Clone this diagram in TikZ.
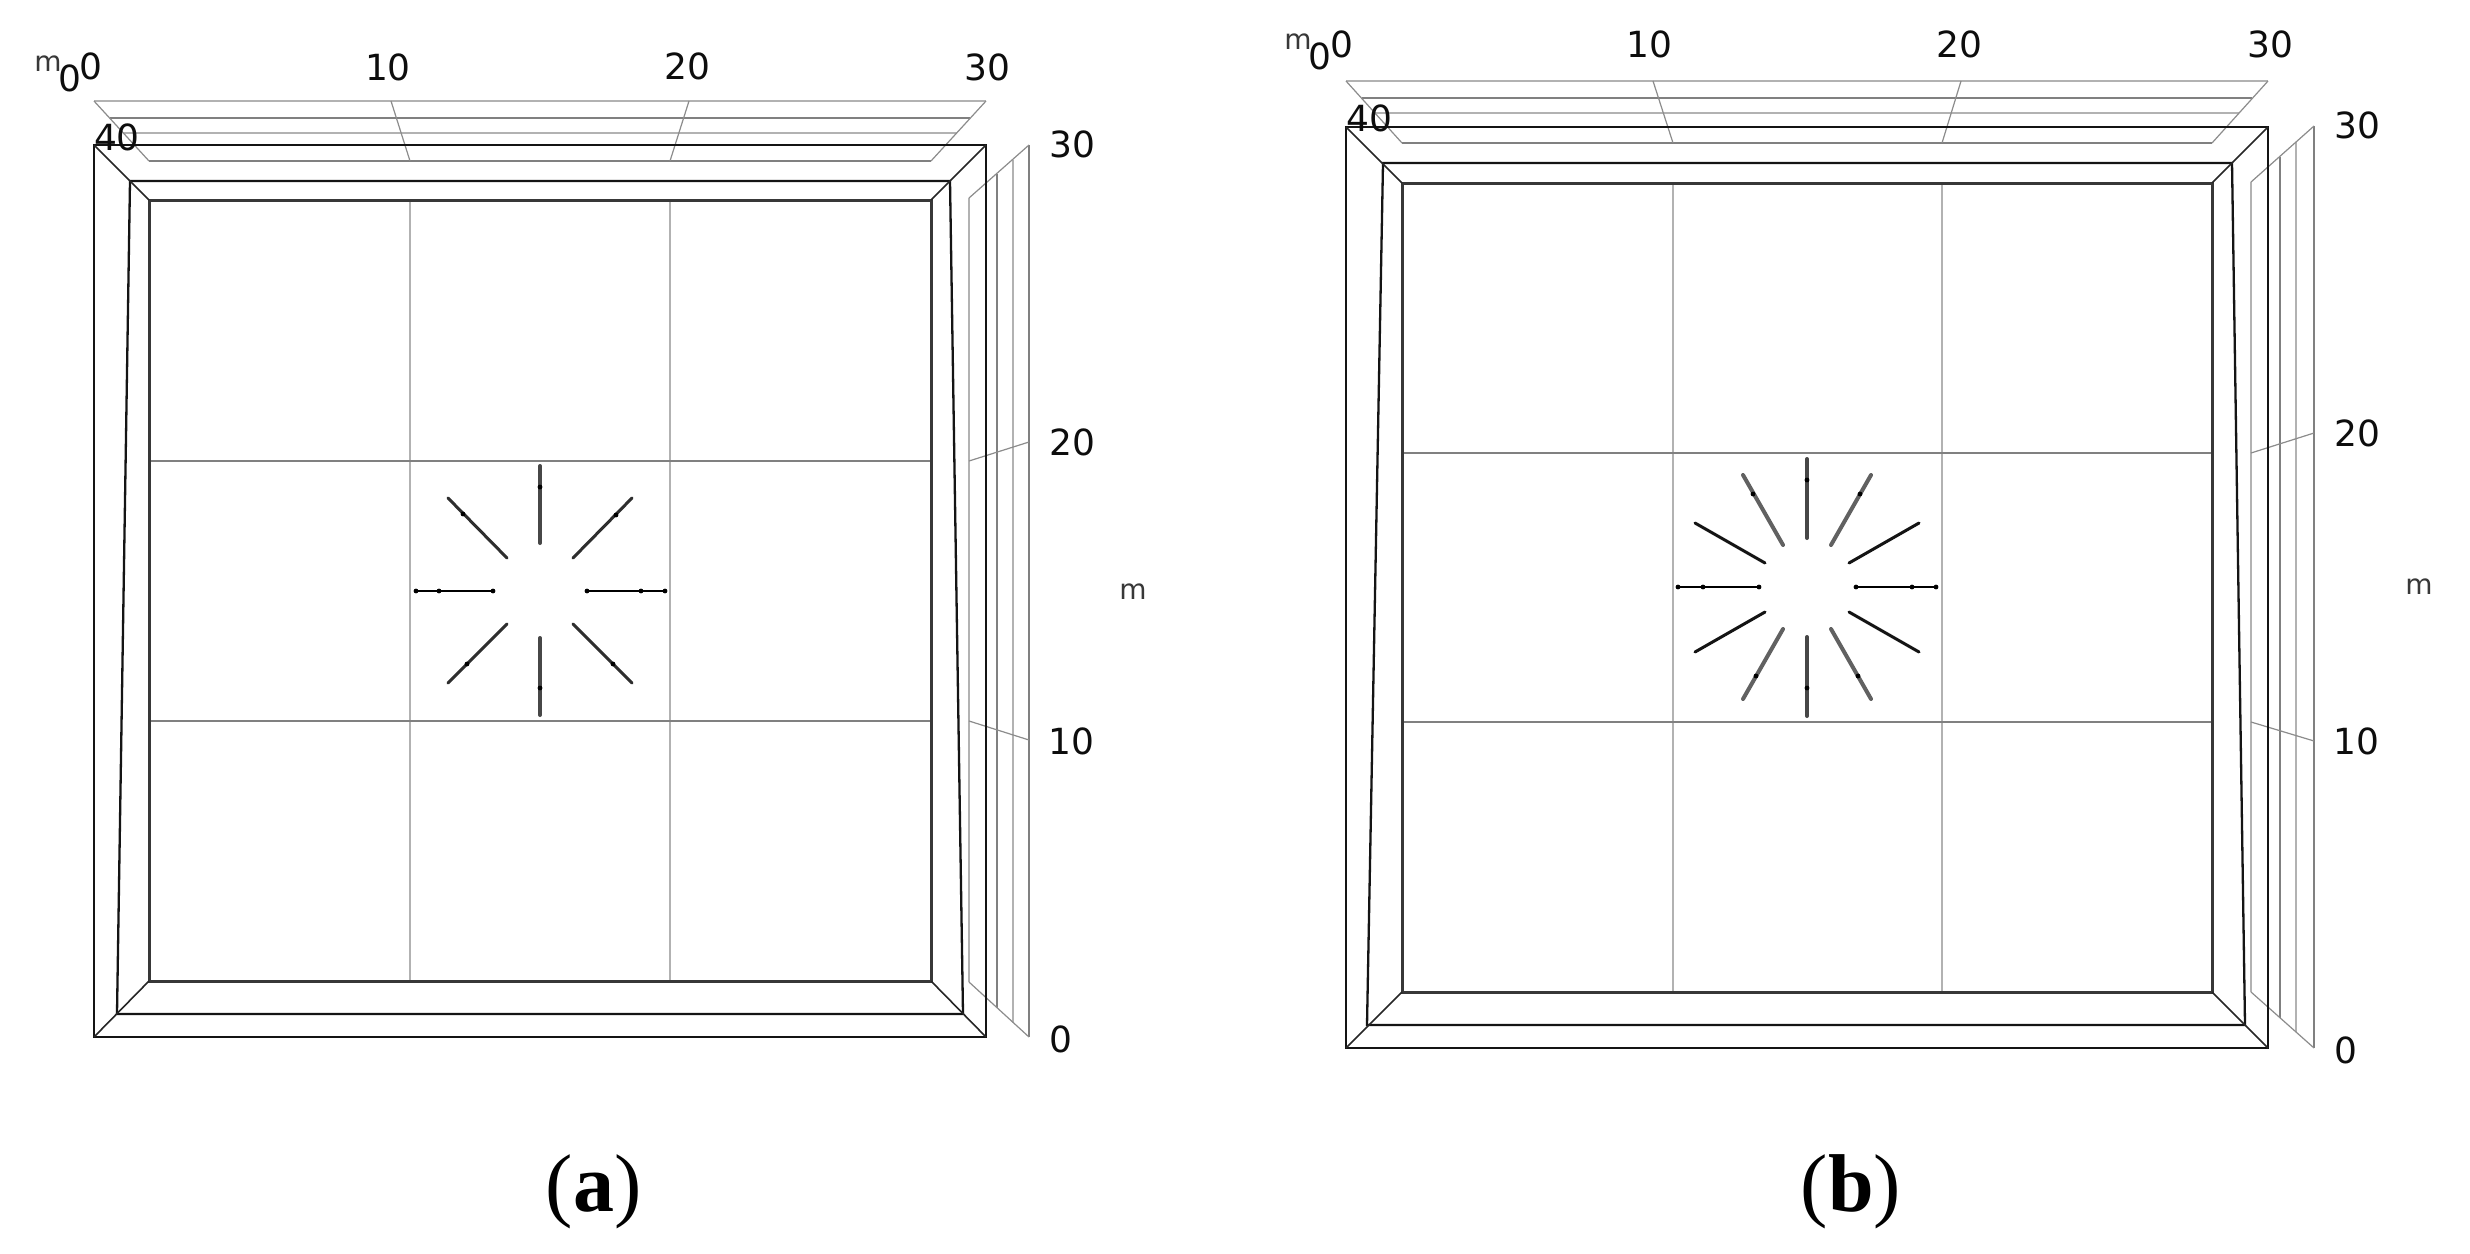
\documentclass[tikz,border=0pt]{standalone}
\usepackage{fontspec}
\setmainfont{DejaVu Sans}
\newfontfamily\capfont{Liberation Serif}
\tikzset{
  frameline/.style={draw=black!92,line width=2.3pt,line join=miter},
  innerline/.style={draw=black!78,line width=3pt,line join=miter},
  joinline/.style={draw=black!85,line width=1.6pt},
  gridline/.style={draw=black!30,line width=2.4pt},
  gridthin/.style={draw=black!50,line width=1.7pt},
  slantline/.style={draw=black!45,line width=1.2pt},
  spokeA/.style={draw=black!72,line width=4pt},
  spokeB/.style={draw=black!82,line width=3pt},
  spokeC/.style={draw=black,line width=1.7pt},
  spokedot/.style={fill=black,draw=none},
  numlabel/.style={inner sep=0pt,font=\fontsize{36}{36}\selectfont,text=black!95},
  unitlabel/.style={inner sep=0pt,font=\fontsize{28}{28}\selectfont,text=black!78},
  caplabel/.style={inner sep=0pt,anchor=base,font=\capfont\fontsize{82}{82}\selectfont}
}
\begin{document}
\begin{tikzpicture}[x=1pt,y=-1pt]
\useasboundingbox (0,0) rectangle (2470,1253);
\fill[white] (0,0) rectangle (2470,1253);

%%%%%%%%%% panel (a)
% top axis plane
\draw[gridline] (94,101) -- (986,101);
\draw[gridthin] (110,118) -- (970,118);
\draw[gridline] (123,133) -- (957,133);
\draw[gridthin] (149,161) -- (931,161);
\draw[slantline] (94,101) -- (149,161);
\draw[slantline] (986,101) -- (931,161);
\draw[slantline] (391,101) -- (410,161);
\draw[slantline] (689,101) -- (670,161);
% right axis plane
\draw[gridline] (969,198) -- (969,982);
\draw[gridthin] (997,174) -- (997,1008);
\draw[gridline] (1013,160) -- (1013,1023);
\draw[gridthin] (1029,145) -- (1029,1037);
\draw[slantline] (969,198) -- (1029,145);
\draw[slantline] (969,982) -- (1029,1037);
\draw[slantline] (969,461) -- (1029,442);
\draw[slantline] (969,721) -- (1029,740);
% grid of the floor
\draw[gridline] (410,200) -- (410,981);
\draw[gridline] (670,200) -- (670,981);
\draw[gridthin] (149,461) -- (931,461);
\draw[gridthin] (149,721) -- (931,721);
% frames
\draw[frameline] (94,145) rectangle (986,1037);
\draw[frameline] (130,181) -- (950,181) -- (963,1014) -- (117,1014) -- cycle;
\draw[innerline] (149,200) rectangle (931,981);
\draw[joinline] (94,145) -- (149,200);
\draw[joinline] (986,145) -- (931,200);
\draw[joinline] (94,1037) -- (149,981);
\draw[joinline] (986,1037) -- (931,981);
% spokes
\draw[spokeA,line cap=round] (540,466) -- (540,543);
\draw[spokeA,line cap=round] (540,638) -- (540,715);
\draw[spokeC] (416,591) -- (493,591);
\draw[spokeC] (587,591) -- (665,591);
\draw[spokeB,line cap=round] (448,498) -- (507,558);
\draw[spokeB,line cap=round] (632,498) -- (573,558);
\draw[spokeB,line cap=round] (448,683) -- (507,624);
\draw[spokeB,line cap=round] (632,683) -- (573,624);
\foreach \p in {(540,487),(540,688),(439,591),(641,591),(416,591),(493,591),(587,591),(665,591),(463,514),(616,515),(467,664),(613,664)}
  \fill[spokedot] \p circle (2.4pt);
% labels
\node[unitlabel] (ma) at (48,64) {m};
\node[numlabel] (a0b) at (70,78) {0};
\node[numlabel] (a0c) at (91,66) {0};
\node[numlabel] (a10) at (388,67) {10};
\node[numlabel] (a20) at (687,66) {20};
\node[numlabel] (a30) at (987,67) {30};
\node[numlabel] (a40) at (117,137) {40};
\node[numlabel] (ar30) at (1072,144) {30};
\node[numlabel] (ar20) at (1072,442) {20};
\node[numlabel] (ar10) at (1071,741) {10};
\node[numlabel] (ar0) at (1061,1039) {0};
\node[unitlabel] (mar) at (1133,592) {m};
\node[caplabel] (capa) at (593.5,1211) {(\textbf{a})};

%%%%%%%%%% panel (b)
% top axis plane
\draw[gridline] (1346,81) -- (2268,81);
\draw[gridthin] (1362,98) -- (2252,98);
\draw[gridline] (1375,113) -- (2239,113);
\draw[gridthin] (1402,143) -- (2212,143);
\draw[slantline] (1346,81) -- (1402,143);
\draw[slantline] (2268,81) -- (2212,143);
\draw[slantline] (1653,81) -- (1673,143);
\draw[slantline] (1961,81) -- (1942,143);
% right axis plane
\draw[gridline] (2251,182) -- (2251,992);
\draw[gridthin] (2280,157) -- (2280,1018);
\draw[gridline] (2296,142) -- (2296,1032);
\draw[gridthin] (2314,126) -- (2314,1048);
\draw[slantline] (2251,182) -- (2314,126);
\draw[slantline] (2251,992) -- (2314,1048);
\draw[slantline] (2251,453) -- (2314,433);
\draw[slantline] (2251,722) -- (2314,741);
% grid of the floor
\draw[gridline] (1673,183) -- (1673,992);
\draw[gridline] (1942,183) -- (1942,992);
\draw[gridthin] (1402,453) -- (2212,453);
\draw[gridthin] (1402,722) -- (2212,722);
% frames
\draw[frameline] (1346,127) rectangle (2268,1048);
\draw[frameline] (1383,163) -- (2232,163) -- (2245,1025) -- (1367,1025) -- cycle;
\draw[innerline] (1402,183) rectangle (2212,992);
\draw[joinline] (1346,127) -- (1402,183);
\draw[joinline] (2268,127) -- (2212,183);
\draw[joinline] (1346,1048) -- (1402,992);
\draw[joinline] (2268,1048) -- (2212,992);
% spokes
\draw[spokeA,line cap=round] (1807,459) -- (1807,538);
\draw[spokeA,line cap=round] (1807,637) -- (1807,716);
\draw[spokeC] (1678,587) -- (1759,587);
\draw[spokeC] (1856,587) -- (1936,587);
\draw[spokeA,draw=black!62,line cap=round] (1743,475) -- (1783,545);
\draw[spokeA,draw=black!62,line cap=round] (1871,475) -- (1831,545);
\draw[spokeA,draw=black!62,line cap=round] (1743,699) -- (1783,629);
\draw[spokeA,draw=black!62,line cap=round] (1871,699) -- (1831,629);
\draw[spokeB,draw=black!92,line cap=round] (1695,523) -- (1765,563);
\draw[spokeB,draw=black!92,line cap=round] (1919,523) -- (1849,563);
\draw[spokeB,draw=black!92,line cap=round] (1695,652) -- (1765,612);
\draw[spokeB,draw=black!92,line cap=round] (1919,652) -- (1849,612);
\foreach \p in {(1807,480),(1807,688),(1703,587),(1912,587),(1678,587),(1759,587),(1856,587),(1936,587),(1753,494),(1860,494),(1756,676),(1858,676)}
  \fill[spokedot] \p circle (2.4pt);
% labels
\node[unitlabel] (mb) at (1298,42) {m};
\node[numlabel] (b0b) at (1320,56) {0};
\node[numlabel] (b0c) at (1342,44) {0};
\node[numlabel] (b10) at (1649,44) {10};
\node[numlabel] (b20) at (1959,44) {20};
\node[numlabel] (b30) at (2270,44) {30};
\node[numlabel] (b40) at (1369,118) {40};
\node[numlabel] (br30) at (2357,125) {30};
\node[numlabel] (br20) at (2357,433) {20};
\node[numlabel] (br10) at (2356,741) {10};
\node[numlabel] (br0) at (2346,1050) {0};
\node[unitlabel] (mbr) at (2419,587) {m};
\node[caplabel] (capb) at (1851,1211) {\textmd{(}\textbf{b}\textmd{)}};
\end{tikzpicture}
\end{document}
